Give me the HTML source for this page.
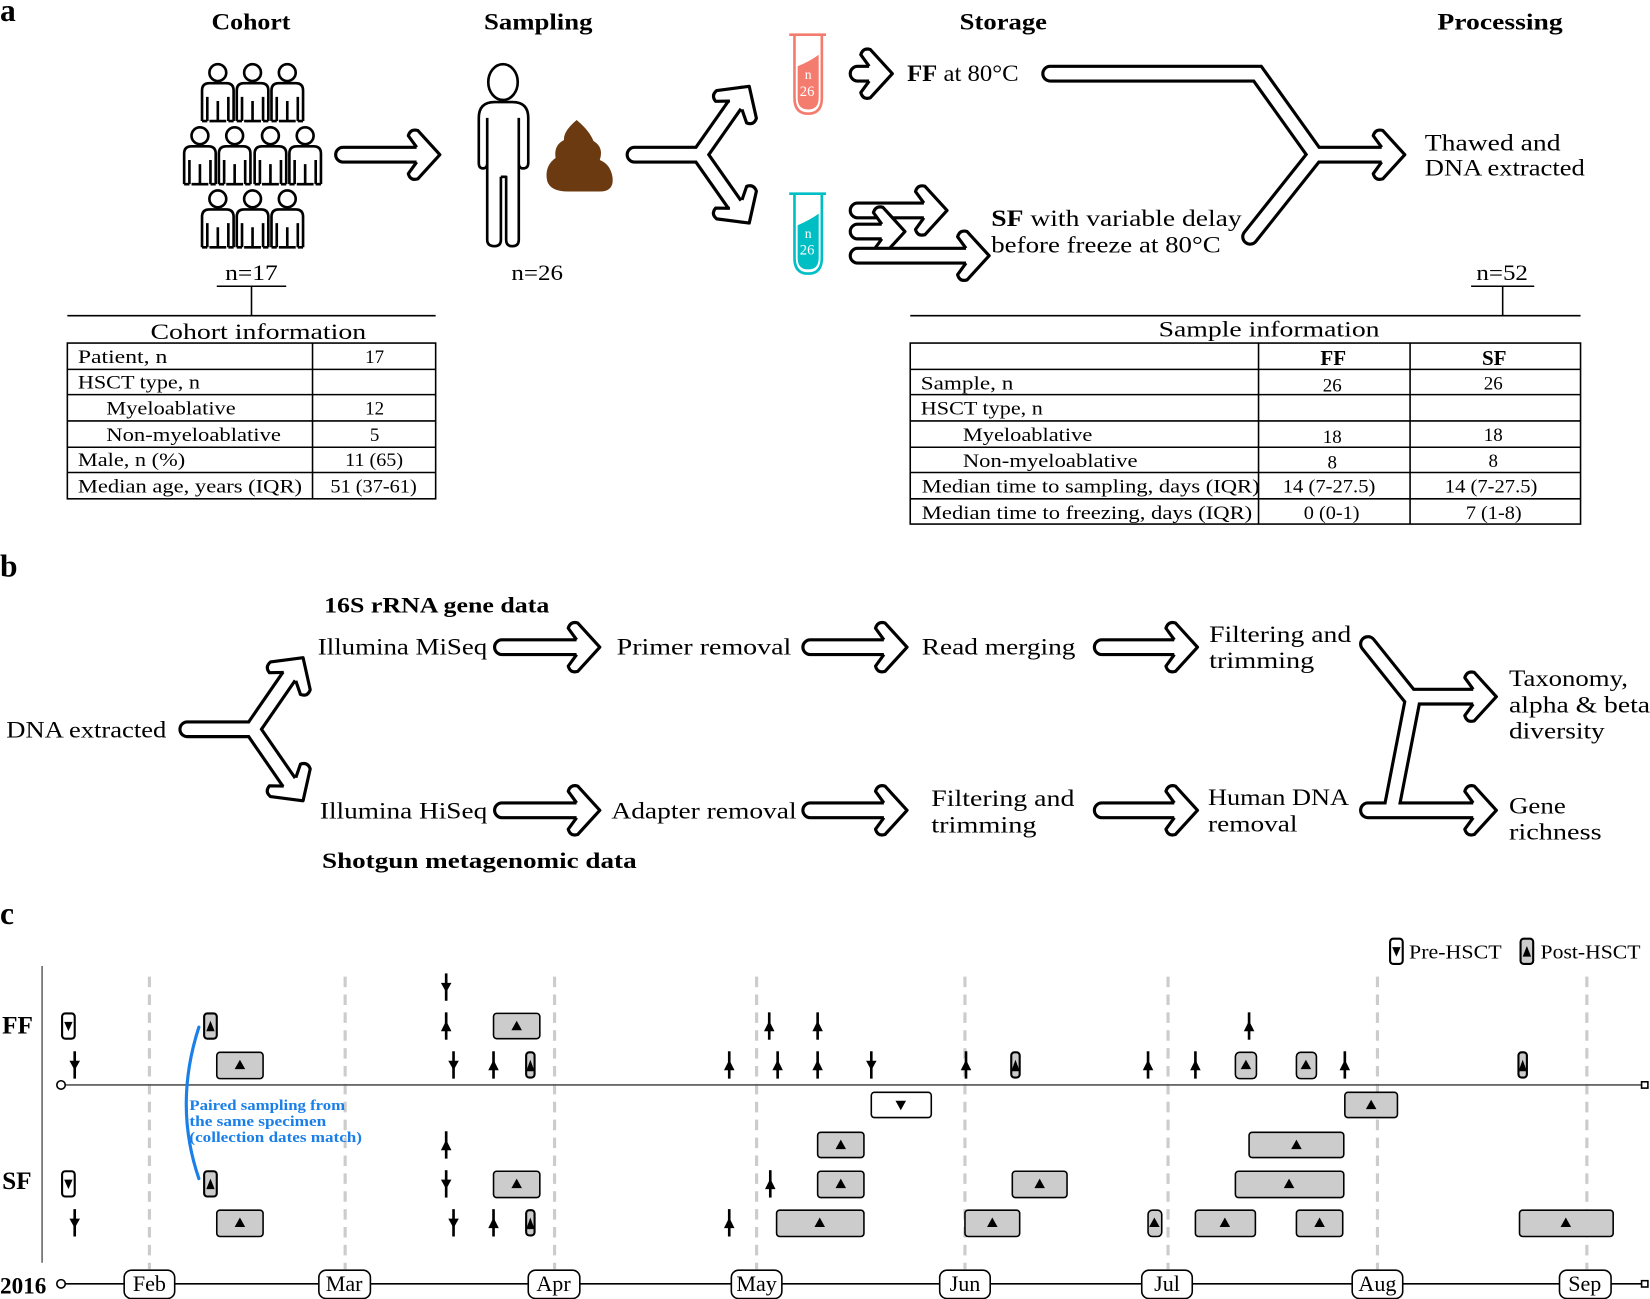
<!DOCTYPE html>
<html><head><meta charset="utf-8"><style>
html,body{margin:0;padding:0;background:#fff;}
svg{display:block;}
text{font-family:"Liberation Serif",serif;fill:#000;}
.b{font-weight:bold;}
</style></head><body>
<svg width="1650" height="1299" viewBox="0 0 1568 1234.4" preserveAspectRatio="none" xmlns="http://www.w3.org/2000/svg">
<defs>
<path id="hd" d="M-22,-7 L-30,-18 Q-28,-25 -21,-23 L0,0 L-21,23 Q-28,25 -30,18 L-22,7" fill="#fff" stroke="#000" stroke-width="3" stroke-linejoin="round"/>
<g id="p"><circle cx="0" cy="-19" r="8" fill="#fff" stroke="#000" stroke-width="2.5"/>
<path d="M-15,27 V-2 Q-15,-9 -8,-9 H8 Q15,-9 15,-2 V27 M-10,27 V4 M10,27 V4 M0,27 V8 M-15,27 H-10 M10,27 H15 M-8,27 H8" fill="#fff" stroke="#000" stroke-width="2.5" stroke-linejoin="round"/></g>
<g id="pd"><line x1="0" y1="-13" x2="0" y2="13" stroke="#000" stroke-width="2.5"/><path d="M-5,-4 L5,-4 L0,5 Z" fill="#000"/></g>
<g id="pu"><line x1="0" y1="-13" x2="0" y2="13" stroke="#000" stroke-width="2.5"/><path d="M-5,5 L5,5 L0,-5 Z" fill="#000"/></g>
<g id="sd"><rect x="-6" y="-12" width="12" height="24" rx="3" fill="#fff" stroke="#000" stroke-width="2"/><path d="M-4,-4 L4,-4 L0,5 Z" fill="#000"/></g>
<g id="su"><rect x="-6" y="-12" width="12" height="24" rx="3" fill="#ccc" stroke="#000" stroke-width="2"/><path d="M-4,5 L4,5 L0,-5 Z" fill="#000"/></g>
<g id="nu"><rect x="-4" y="-12" width="8" height="24" rx="3" fill="#ccc" stroke="#000" stroke-width="2"/><path d="M-4,6 L4,6 L0,-5 Z" fill="#000"/></g>
<path id="tu" d="M-5,4 L5,4 L0,-5 Z" fill="#000"/>
<path id="td" d="M-5,-4 L5,-4 L0,5 Z" fill="#000"/>
</defs>

<!-- ===== a ===== -->
<text x="0" y="20" font-size="30" class="b">a</text>
<text x="201" y="28" font-size="22" class="b" textLength="75" lengthAdjust="spacingAndGlyphs">Cohort</text>
<text x="460" y="28" font-size="22" class="b" textLength="103" lengthAdjust="spacingAndGlyphs">Sampling</text>
<text x="912" y="28" font-size="22" class="b" textLength="83" lengthAdjust="spacingAndGlyphs">Storage</text>
<text x="1366" y="28" font-size="22" class="b" textLength="119" lengthAdjust="spacingAndGlyphs">Processing</text>

<use href="#p" x="207" y="88"/><use href="#p" x="240" y="88"/><use href="#p" x="273" y="88"/>
<use href="#p" x="190" y="148"/><use href="#p" x="223" y="148"/><use href="#p" x="257" y="148"/><use href="#p" x="290" y="148"/>
<use href="#p" x="207" y="208"/><use href="#p" x="240" y="208"/><use href="#p" x="273" y="208"/>

<g fill="#fff" stroke="#000" stroke-width="3" stroke-linejoin="round">
<path d="M396,140 H326 A7,7 0 0 0 326,154 H396"/>
</g>
<use href="#hd" transform="translate(418,147)"/>

<ellipse cx="478" cy="78" rx="14" ry="17" fill="#fff" stroke="#000" stroke-width="2.5"/>
<path d="M455,155 V112 Q455,97 470,97 H487 Q502,97 502,112 V155 Q502,160 497,160 Q493,160 493,155 V112 M463,112 V155 Q463,160 459,160 Q455,160 455,155 M463,120 V228 Q463,234 470,234 Q476,234 476,228 V168 M476,168 H481 V228 Q481,234 487,234 Q493,234 493,228 V120" fill="none" stroke="#000" stroke-width="2.5" stroke-linejoin="round"/>
<path d="M548,114 Q535,125 536,133 Q526,138 528,150 Q517,158 520,172 Q523,182 540,182 H570 Q584,182 582,168 Q580,156 570,152 Q574,140 564,134 Q560,124 548,114 Z" fill="#6b3a10"/>

<g fill="none" stroke-linejoin="round" stroke-linecap="round">
<path d="M603,147 H665 L705,90 M665,147 L705,204" stroke="#000" stroke-width="17"/>
<path d="M603,147 H665 L705,90 M665,147 L705,204" stroke="#fff" stroke-width="11"/>
</g>
<g transform="translate(712,82) rotate(-55)"><use href="#hd"/></g>
<g transform="translate(712,212) rotate(55)"><use href="#hd"/></g>

<g stroke-width="2.5" fill="#fff">
<path d="M750,33 H785 M755,33 V93 Q755,108 768,108 Q781,108 781,93 V33" stroke="#f47c6f"/>
<path d="M758,63 Q770,58 778,52 V93 Q778,104 768,104 Q758,104 758,93 Z" fill="#f47c6f" stroke="none"/>
<path d="M750,184 H785 M755,184 V245 Q755,260 768,260 Q781,260 781,245 V184" stroke="#00bfc4"/>
<path d="M758,214 Q770,209 778,203 V245 Q778,256 768,256 Q758,256 758,245 Z" fill="#00bfc4" stroke="none"/>
</g>
<text x="768" y="75" font-size="13" text-anchor="middle" style="fill:#fff">n</text>
<text x="767" y="91" font-size="14" text-anchor="middle" style="fill:#fff">26</text>
<text x="768" y="226" font-size="13" text-anchor="middle" style="fill:#fff">n</text>
<text x="767" y="242" font-size="14" text-anchor="middle" style="fill:#fff">26</text>

<g fill="#fff" stroke="#000" stroke-width="3" stroke-linejoin="round">
<path d="M826,63 H815 A7,7 0 0 0 815,77 H826"/>
</g>
<use href="#hd" transform="translate(848,70)"/>
<text x="862" y="77" font-size="22" textLength="106" lengthAdjust="spacingAndGlyphs"><tspan class="b">FF</tspan> at 80°C</text>

<g fill="#fff" stroke="#000" stroke-width="3" stroke-linejoin="round">
<path d="M878,193 H815 A7,7 0 0 0 815,207 H878"/>
</g>
<use href="#hd" transform="translate(900,200)"/>
<g fill="#fff" stroke="#000" stroke-width="3" stroke-linejoin="round">
<path d="M838,213 H815 A7,7 0 0 0 815,227 H838"/>
</g>
<use href="#hd" transform="translate(860,220)"/>
<g fill="#fff" stroke="#000" stroke-width="3" stroke-linejoin="round">
<path d="M918,236 H815 A7,7 0 0 0 815,250 H918"/>
</g>
<use href="#hd" transform="translate(940,243)"/>
<text x="942" y="215" font-size="22" textLength="238" lengthAdjust="spacingAndGlyphs"><tspan class="b">SF</tspan>  with variable delay</text>
<text x="942" y="240" font-size="22" textLength="218" lengthAdjust="spacingAndGlyphs">before freeze at 80°C</text>

<g fill="none" stroke-linejoin="miter" stroke-linecap="round">
<path d="M998,70 H1195 L1250,147 H1318 M1250,147 L1188,225" stroke="#000" stroke-width="17"/>
<path d="M998,70 H1195 L1250,147 H1318 M1250,147 L1188,225" stroke="#fff" stroke-width="11"/>
</g>
<use href="#hd" transform="translate(1335,147)"/>
<text x="1354" y="143" font-size="22" textLength="129" lengthAdjust="spacingAndGlyphs">Thawed and</text>
<text x="1354" y="167" font-size="22" textLength="152" lengthAdjust="spacingAndGlyphs">DNA extracted</text>

<g stroke="#000" stroke-width="1.5" fill="none">
<line x1="206" y1="272" x2="272" y2="272"/><line x1="239" y1="272" x2="239" y2="300"/>
<line x1="64" y1="300" x2="414" y2="300"/>
<rect x="64" y="326" width="350" height="148"/>
<line x1="297" y1="326" x2="297" y2="474"/>
<line x1="64" y1="351" x2="414" y2="351"/><line x1="64" y1="375" x2="414" y2="375"/>
<line x1="64" y1="400" x2="414" y2="400"/><line x1="64" y1="425" x2="414" y2="425"/>
<line x1="64" y1="449" x2="414" y2="449"/>
</g>
<text x="214" y="266" font-size="21" textLength="50" lengthAdjust="spacingAndGlyphs">n=17</text>
<text x="143" y="322" font-size="21" textLength="205" lengthAdjust="spacingAndGlyphs">Cohort information</text>
<g font-size="18">
<text x="74" y="345" textLength="85" lengthAdjust="spacingAndGlyphs">Patient, n</text><text x="356" y="345" text-anchor="middle">17</text>
<text x="74" y="369" textLength="116" lengthAdjust="spacingAndGlyphs">HSCT type, n</text>
<text x="101" y="394" textLength="123" lengthAdjust="spacingAndGlyphs">Myeloablative</text><text x="356" y="394" text-anchor="middle">12</text>
<text x="101" y="419" textLength="166" lengthAdjust="spacingAndGlyphs">Non-myeloablative</text><text x="356" y="419" text-anchor="middle">5</text>
<text x="74" y="443" textLength="102" lengthAdjust="spacingAndGlyphs">Male, n (%)</text><text x="328" y="443" textLength="55" lengthAdjust="spacingAndGlyphs">11 (65)</text>
<text x="74" y="468" textLength="213" lengthAdjust="spacingAndGlyphs">Median age, years (IQR)</text><text x="314" y="468" textLength="82" lengthAdjust="spacingAndGlyphs">51 (37-61)</text>
</g>
<text x="486" y="266" font-size="21" textLength="49" lengthAdjust="spacingAndGlyphs">n=26</text>

<g stroke="#000" stroke-width="1.5" fill="none">
<line x1="1398" y1="272" x2="1458" y2="272"/><line x1="1428" y1="272" x2="1428" y2="300"/>
<line x1="865" y1="300" x2="1502" y2="300"/>
<rect x="865" y="326" width="637" height="172"/>
<line x1="1196" y1="326" x2="1196" y2="498"/><line x1="1340" y1="326" x2="1340" y2="498"/>
<line x1="865" y1="351" x2="1502" y2="351"/><line x1="865" y1="375" x2="1502" y2="375"/>
<line x1="865" y1="400" x2="1502" y2="400"/><line x1="865" y1="425" x2="1502" y2="425"/>
<line x1="865" y1="449" x2="1502" y2="449"/><line x1="865" y1="474" x2="1502" y2="474"/>
</g>
<text x="1403" y="266" font-size="21" textLength="49" lengthAdjust="spacingAndGlyphs">n=52</text>
<text x="1101" y="320" font-size="21" textLength="210" lengthAdjust="spacingAndGlyphs">Sample information</text>
<g font-size="18">
<text x="1267" y="347" text-anchor="middle" class="b" font-size="20">FF</text><text x="1420" y="347" text-anchor="middle" class="b" font-size="20">SF</text>
<text x="875" y="370" textLength="88" lengthAdjust="spacingAndGlyphs">Sample, n</text><text x="1266" y="372" text-anchor="middle">26</text><text x="1419" y="370" text-anchor="middle">26</text>
<text x="875" y="394" textLength="116" lengthAdjust="spacingAndGlyphs">HSCT type, n</text>
<text x="915" y="419" textLength="123" lengthAdjust="spacingAndGlyphs">Myeloablative</text><text x="1266" y="421" text-anchor="middle">18</text><text x="1419" y="419" text-anchor="middle">18</text>
<text x="915" y="444" textLength="166" lengthAdjust="spacingAndGlyphs">Non-myeloablative</text><text x="1266" y="445" text-anchor="middle">8</text><text x="1419" y="444" text-anchor="middle">8</text>
<text x="876" y="468" textLength="321" lengthAdjust="spacingAndGlyphs">Median time to sampling, days (IQR)</text><text x="1219" y="468" textLength="88" lengthAdjust="spacingAndGlyphs">14 (7-27.5)</text><text x="1373" y="468" textLength="88" lengthAdjust="spacingAndGlyphs">14 (7-27.5)</text>
<text x="876" y="493" textLength="314" lengthAdjust="spacingAndGlyphs">Median time to freezing, days (IQR)</text><text x="1239" y="493" textLength="53" lengthAdjust="spacingAndGlyphs">0 (0-1)</text><text x="1393" y="493" textLength="53" lengthAdjust="spacingAndGlyphs">7 (1-8)</text>
</g>

<!-- ===== b ===== -->
<text x="0" y="548" font-size="30" class="b">b</text>
<text x="308" y="582" font-size="21" class="b" textLength="214" lengthAdjust="spacingAndGlyphs">16S rRNA gene data</text>
<text x="306" y="825" font-size="21" class="b" textLength="299" lengthAdjust="spacingAndGlyphs">Shotgun metagenomic data</text>
<text x="6" y="701" font-size="22" textLength="152" lengthAdjust="spacingAndGlyphs">DNA extracted</text>
<g fill="none" stroke-linejoin="round" stroke-linecap="round">
<path d="M178,693 H240 L280,635 M240,693 L280,751" stroke="#000" stroke-width="17"/>
<path d="M178,693 H240 L280,635 M240,693 L280,751" stroke="#fff" stroke-width="11"/>
</g>
<g transform="translate(288,625) rotate(-55)"><use href="#hd"/></g>
<g transform="translate(288,761) rotate(55)"><use href="#hd"/></g>

<g font-size="22">
<text x="302" y="622" textLength="161" lengthAdjust="spacingAndGlyphs">Illumina MiSeq</text>
<text x="586" y="622" textLength="166" lengthAdjust="spacingAndGlyphs">Primer removal</text>
<text x="876" y="622" textLength="146" lengthAdjust="spacingAndGlyphs">Read merging</text>
<text x="1149" y="610" textLength="135" lengthAdjust="spacingAndGlyphs">Filtering and</text><text x="1149" y="635" textLength="100" lengthAdjust="spacingAndGlyphs">trimming</text>
<text x="304" y="778" textLength="159" lengthAdjust="spacingAndGlyphs">Illumina HiSeq</text>
<text x="581" y="778" textLength="176" lengthAdjust="spacingAndGlyphs">Adapter removal</text>
<text x="885" y="766" textLength="136" lengthAdjust="spacingAndGlyphs">Filtering and</text><text x="885" y="791" textLength="100" lengthAdjust="spacingAndGlyphs">trimming</text>
<text x="1148" y="765" textLength="134" lengthAdjust="spacingAndGlyphs">Human DNA</text><text x="1148" y="790" textLength="85" lengthAdjust="spacingAndGlyphs">removal</text>
<text x="1434" y="652" textLength="113" lengthAdjust="spacingAndGlyphs">Taxonomy,</text><text x="1434" y="677" textLength="134" lengthAdjust="spacingAndGlyphs">alpha &amp; beta</text><text x="1434" y="702" textLength="91" lengthAdjust="spacingAndGlyphs">diversity</text>
<text x="1434" y="773" textLength="54" lengthAdjust="spacingAndGlyphs">Gene</text><text x="1434" y="798" textLength="88" lengthAdjust="spacingAndGlyphs">richness</text>
</g>
<g fill="#fff" stroke="#000" stroke-width="3" stroke-linejoin="round">
<path d="M548,608 H477 A7,7 0 0 0 477,622 H548"/>
<path d="M840,608 H770 A7,7 0 0 0 770,622 H840"/>
<path d="M1116,608 H1047 A7,7 0 0 0 1047,622 H1116"/>
<path d="M548,763 H477 A7,7 0 0 0 477,777 H548"/>
<path d="M840,763 H770 A7,7 0 0 0 770,777 H840"/>
<path d="M1116,763 H1047 A7,7 0 0 0 1047,777 H1116"/>
</g>
<use href="#hd" transform="translate(570,615)"/><use href="#hd" transform="translate(862,615)"/><use href="#hd" transform="translate(1138,615)"/>
<use href="#hd" transform="translate(570,770)"/><use href="#hd" transform="translate(862,770)"/><use href="#hd" transform="translate(1138,770)"/>
<g fill="none" stroke-linejoin="miter" stroke-linecap="round">
<path d="M1300,612 L1340,662 H1405 M1300,770 H1405 M1322,770 L1343,662" stroke="#000" stroke-width="17"/>
<path d="M1300,612 L1340,662 H1405 M1300,770 H1405 M1322,770 L1343,662" stroke="#fff" stroke-width="11"/>
</g>
<use href="#hd" transform="translate(1422,662)"/><use href="#hd" transform="translate(1422,770)"/>

<!-- ===== c ===== -->
<text x="0" y="878" font-size="30" class="b">c</text>
<use href="#sd" x="1327" y="904"/><text x="1339" y="911" font-size="19" textLength="88" lengthAdjust="spacingAndGlyphs">Pre-HSCT</text>
<use href="#su" x="1451" y="904"/><text x="1464" y="911" font-size="19" textLength="95" lengthAdjust="spacingAndGlyphs">Post-HSCT</text>

<g stroke="#ccc" stroke-width="3" stroke-dasharray="10,7">
<line x1="142" y1="928" x2="142" y2="1206"/><line x1="328" y1="928" x2="328" y2="1206"/>
<line x1="527" y1="928" x2="527" y2="1206"/><line x1="719" y1="928" x2="719" y2="1206"/>
<line x1="917" y1="928" x2="917" y2="1206"/><line x1="1110" y1="928" x2="1110" y2="1206"/>
<line x1="1309" y1="928" x2="1309" y2="1206"/><line x1="1508" y1="928" x2="1508" y2="1206"/>
</g>
<line x1="40" y1="918" x2="40" y2="1200" stroke="#666" stroke-width="1.5"/>
<text x="2" y="982" font-size="24" class="b">FF</text>
<text x="2" y="1130" font-size="24" class="b">SF</text>
<line x1="62" y1="1031" x2="1560" y2="1031" stroke="#555" stroke-width="1.5"/>
<circle cx="58" cy="1031" r="4" fill="#fff" stroke="#000" stroke-width="1.5"/>
<rect x="1560" y="1028" width="6" height="6" fill="#fff" stroke="#000" stroke-width="1.5"/>
<line x1="62" y1="1220" x2="1560" y2="1220" stroke="#000" stroke-width="1.5"/>
<circle cx="58" cy="1220" r="4" fill="#fff" stroke="#000" stroke-width="1.5"/>
<rect x="1560" y="1217" width="6" height="6" fill="#fff" stroke="#000" stroke-width="1.5"/>
<text x="0" y="1229" font-size="22" class="b">2016</text>
<g fill="#fff" stroke="#000" stroke-width="1.5">
<rect x="118" y="1207" width="48" height="27" rx="7"/><rect x="303" y="1207" width="49" height="27" rx="7"/>
<rect x="502" y="1207" width="49" height="27" rx="7"/><rect x="695" y="1207" width="48" height="27" rx="7"/>
<rect x="893" y="1207" width="48" height="27" rx="7"/><rect x="1085" y="1207" width="48" height="27" rx="7"/>
<rect x="1285" y="1207" width="48" height="27" rx="7"/><rect x="1482" y="1207" width="49" height="27" rx="7"/>
</g>
<g font-size="21" text-anchor="middle">
<text x="142" y="1227">Feb</text><text x="327" y="1227">Mar</text><text x="526" y="1227">Apr</text><text x="719" y="1227">May</text>
<text x="917" y="1227">Jun</text><text x="1109" y="1227">Jul</text><text x="1309" y="1227">Aug</text><text x="1506" y="1227">Sep</text>
</g>

<g fill="#ccc" stroke="#000" stroke-width="1.5">
<rect x="469" y="963" width="44" height="24" rx="3"/>
<rect x="206" y="1000" width="44" height="25" rx="3"/>
<rect x="1174" y="1000" width="20" height="25" rx="4"/>
<rect x="1232" y="1000" width="19" height="25" rx="4"/>
<rect x="1278" y="1038" width="50" height="24" rx="3"/>
<rect x="777" y="1076" width="44" height="24" rx="3"/>
<rect x="1187" y="1076" width="90" height="24" rx="3"/>
<rect x="469" y="1113" width="44" height="25" rx="3"/>
<rect x="777" y="1113" width="44" height="25" rx="3"/>
<rect x="962" y="1113" width="52" height="25" rx="3"/>
<rect x="1174" y="1113" width="103" height="25" rx="3"/>
<rect x="206" y="1150" width="44" height="25" rx="3"/>
<rect x="738" y="1150" width="83" height="25" rx="3"/>
<rect x="917" y="1150" width="52" height="25" rx="3"/>
<rect x="1091" y="1150" width="13" height="25" rx="4"/>
<rect x="1136" y="1150" width="57" height="25" rx="3"/>
<rect x="1232" y="1150" width="44" height="25" rx="3"/>
<rect x="1444" y="1150" width="89" height="25" rx="3"/>
</g>
<rect x="828" y="1038" width="57" height="24" rx="3" fill="#fff" stroke="#000" stroke-width="1.5"/>
<use href="#td" x="856" y="1050"/>
<use href="#tu" x="491" y="975"/><use href="#tu" x="228" y="1012"/><use href="#tu" x="1184" y="1012"/><use href="#tu" x="1241" y="1012"/>
<use href="#tu" x="1303" y="1050"/><use href="#tu" x="799" y="1088"/><use href="#tu" x="1232" y="1088"/>
<use href="#tu" x="491" y="1125"/><use href="#tu" x="799" y="1125"/><use href="#tu" x="988" y="1125"/><use href="#tu" x="1225" y="1125"/>
<use href="#tu" x="228" y="1162"/><use href="#tu" x="779" y="1162"/><use href="#tu" x="943" y="1162"/><use href="#tu" x="1097" y="1162"/>
<use href="#tu" x="1164" y="1162"/><use href="#tu" x="1254" y="1162"/><use href="#tu" x="1488" y="1162"/>

<use href="#pd" x="424" y="938"/>
<use href="#sd" x="65" y="975"/><use href="#su" x="200" y="975"/><use href="#pu" x="424" y="975"/>
<use href="#pu" x="731" y="975"/><use href="#pu" x="777" y="975"/><use href="#pu" x="1187" y="975"/>
<use href="#pd" x="71" y="1012"/><use href="#pd" x="431" y="1012"/><use href="#pu" x="469" y="1012"/><use href="#nu" x="504" y="1012"/>
<use href="#pu" x="693" y="1012"/><use href="#pu" x="739" y="1012"/><use href="#pu" x="777" y="1012"/><use href="#pd" x="828" y="1012"/>
<use href="#pu" x="918" y="1012"/><use href="#nu" x="965" y="1012"/><use href="#pu" x="1091" y="1012"/><use href="#pu" x="1136" y="1012"/>
<use href="#pu" x="1278" y="1012"/><use href="#nu" x="1447" y="1012"/>
<use href="#pu" x="424" y="1088"/>
<use href="#sd" x="65" y="1125"/><use href="#su" x="200" y="1125"/><use href="#pd" x="424" y="1125"/><use href="#pu" x="732" y="1125"/>
<use href="#pd" x="71" y="1162"/><use href="#pd" x="431" y="1162"/><use href="#pu" x="469" y="1162"/><use href="#nu" x="504" y="1162"/>
<use href="#pu" x="693" y="1162"/>

<path d="M189,976 Q165,1050 189,1120" fill="none" stroke="#1a7fe8" stroke-width="3" stroke-linecap="round"/>
<g font-size="14">
<text x="180" y="1055" style="fill:#1a7fe8" font-weight="bold" textLength="148" lengthAdjust="spacingAndGlyphs">Paired sampling from</text>
<text x="180" y="1070" style="fill:#1a7fe8" font-weight="bold" textLength="130" lengthAdjust="spacingAndGlyphs">the same specimen</text>
<text x="180" y="1085" style="fill:#1a7fe8" font-weight="bold" textLength="164" lengthAdjust="spacingAndGlyphs">(collection dates match)</text>
</g>
</svg>
</body></html>
